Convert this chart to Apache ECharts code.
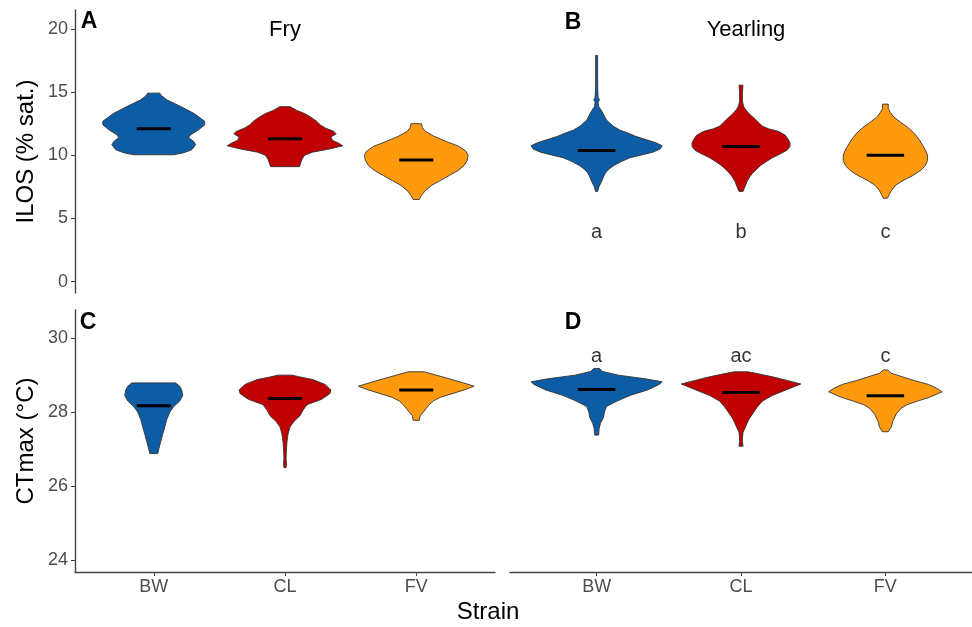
<!DOCTYPE html>
<html>
<head>
<meta charset="utf-8">
<script src="https://cdn.jsdelivr.net/npm/echarts@6/dist/echarts.min.js"></script>
<style>
  html, body { margin: 0; padding: 0; background: #fff; }
  #chart { width: 972px; height: 627px; }
</style>
</head>
<body>
<div id="chart"></div>
<script>
var strains = ['BW', 'CL', 'FV'];
var ilosTicks = [0, 5, 10, 15, 20];
var ctTicks = [24, 26, 28, 30];

// violin outlines: [value, half width in strain units]
var fryIlosBW = [[10.04, .152], [10.2, .228], [10.43, .289], [10.83, .319], [11.1, .304], [11.4, .266], [11.62, .281],
  [12.02, .342], [12.41, .388], [12.7, .388], [12.81, .373], [13.33, .304], [13.86, .205], [14.39, .099], [14.7, .061], [14.92, .046]];
var fryIlosCL = [[9.1, .11], [9.4, .12], [9.7, .13], [10.0, .15], [10.25, .21], [10.5, .34], [10.75, .44], [10.95, .41],
  [11.2, .36], [11.45, .35], [11.7, .39], [11.9, .37], [12.15, .31], [12.4, .27], [12.7, .24], [13.0, .2], [13.3, .15],
  [13.55, .09], [13.85, .04]];
var fryIlosFV = [[6.5, .023], [6.8, .038], [7.2, .068], [7.6, .114], [8.0, .183], [8.4, .251], [8.8, .319], [9.2, .365],
  [9.6, .388], [10.0, .395], [10.3, .38], [10.7, .327], [11.1, .228], [11.5, .137], [11.9, .068], [12.2, .046], [12.5, .04]];

var yrIlosBW = [[7.14, .007], [7.5, .015], [7.9, .034], [8.3, .048], [8.6, .061], [8.9, .085], [9.2, .12], [9.5, .17],
  [9.8, .23], [10.05, .32], [10.25, .39], [10.5, .44], [10.75, .454], [11.0, .41], [11.25, .34], [11.5, .27], [11.75, .22],
  [12.0, .16], [12.3, .115], [12.8, .068], [13.3, .045], [13.6, .03], [13.85, .015], [14.2, .01], [14.4, .02], [14.6, .01],
  [15.5, .007], [17.9, .007]];
var yrIlosCL = [[7.14, .014], [7.5, .027], [7.9, .041], [8.3, .061], [8.6, .081], [8.9, .108], [9.2, .136], [9.5, .176],
  [9.8, .217], [10.1, .271], [10.4, .319], [10.7, .339], [11.0, .339], [11.3, .325], [11.6, .305], [11.9, .258], [12.1, .19],
  [12.3, .149], [12.6, .122], [12.9, .095], [13.1, .075], [13.4, .047], [13.7, .027], [13.9, .017], [14.3, .01], [15.0, .01],
  [15.55, .014]];
var yrIlosFV = [[6.6, .014], [6.9, .027], [7.2, .041], [7.6, .068], [8.0, .122], [8.4, .19], [8.8, .244], [9.2, .278],
  [9.6, .292], [10.0, .292], [10.4, .278], [10.8, .258], [11.2, .237], [11.7, .203], [12.2, .156], [12.6, .108], [13.0, .061],
  [13.4, .034], [13.7, .02], [14.05, .02]];

var fryCtBW = [[26.88, .03], [27.0, .038], [27.2, .053], [27.4, .068], [27.6, .084], [27.8, .099], [28.0, .122], [28.15, .152],
  [28.3, .198], [28.45, .221], [28.6, .213], [28.7, .198], [28.79, .167]];
var fryCtCL = [[26.5, .008], [26.6, .011], [26.75, .008], [27.0, .011], [27.2, .015], [27.4, .023], [27.6, .038], [27.75, .068],
  [27.9, .114], [28.05, .137], [28.2, .167], [28.35, .281], [28.5, .342], [28.6, .35], [28.75, .304], [28.88, .213],
  [28.95, .114], [29.0, .053]];
var fryCtFV = [[27.78, .023], [27.9, .03], [28.0, .053], [28.1, .076], [28.2, .099], [28.3, .129], [28.4, .183], [28.5, .274],
  [28.6, .365], [28.7, .441], [28.8, .35], [28.9, .251], [29.0, .152], [29.09, .061]];

var yrCtBW = [[27.38, .014], [27.55, .017], [27.7, .027], [27.85, .047], [28.0, .054], [28.15, .068], [28.3, .142], [28.45, .231],
  [28.6, .353], [28.75, .434], [28.82, .454], [28.9, .339], [29.0, .149], [29.1, .041], [29.18, .02]];
var yrCtCL = [[27.08, .014], [27.2, .01], [27.3, .01], [27.45, .014], [27.6, .031], [27.8, .054], [28.0, .088], [28.15, .115],
  [28.3, .149], [28.45, .217], [28.6, .312], [28.76, .414], [28.85, .325], [28.95, .224], [29.05, .102], [29.09, .047]];
var yrCtFV = [[27.47, .02], [27.6, .041], [27.75, .051], [27.95, .075], [28.1, .108], [28.2, .149], [28.3, .224], [28.4, .305],
  [28.55, .393], [28.65, .353], [28.75, .298], [28.85, .203], [28.95, .122], [29.05, .041], [29.14, .014]];

var fryIlosMedian = [12.1, 11.3, 9.62];
var yrIlosMedian = [10.38, 10.7, 10.0];
var fryCtMedian = [28.17, 28.37, 28.6];
var yrCtMedian = [28.61, 28.53, 28.44];

var yrIlosLetters = ['a', 'b', 'c'];
var yrIlosLetterY = 3.9;
var yrCtLetters = ['a', 'ac', 'c'];
var yrCtLetterY = 29.5;

var fills = ['#0C5DA5', '#C00000', '#FF9A0E'];
var font = 'Liberation Sans, Arial, sans-serif';

var chart = echarts.init(document.getElementById('chart'));

function violins(idx, profiles, medians) {
  return {
    type: 'custom',
    xAxisIndex: idx,
    yAxisIndex: idx,
    clip: false,
    data: medians.map(function (m, i) { return [i + 1, m]; }),
    encode: { x: 0, y: 1 },
    renderItem: function (params, api) {
      var i = params.dataIndex;
      var x = api.value(0);
      var prof = profiles[i];
      var pts = prof.map(function (p) { return api.coord([x + p[1], p[0]]); });
      var back = prof.slice().reverse().map(function (p) { return api.coord([x - p[1], p[0]]); });
      var a = api.coord([x - 0.13, api.value(1)]);
      var b = api.coord([x + 0.13, api.value(1)]);
      return {
        type: 'group',
        children: [
          { type: 'polygon', shape: { points: pts.concat(back) },
            style: { fill: fills[i], stroke: '#333', lineWidth: 0.9 } },
          { type: 'line', shape: { x1: a[0], y1: a[1], x2: b[0], y2: b[1] },
            style: { stroke: '#000', lineWidth: 3 } }
        ]
      };
    }
  };
}

function letters(idx, labels, yv) {
  return {
    type: 'scatter',
    xAxisIndex: idx,
    yAxisIndex: idx,
    symbolSize: 1,
    itemStyle: { color: 'rgba(0,0,0,0)' },
    data: labels.map(function (l, i) { return [i + 1, yv]; }),
    label: {
      show: true, position: 'inside', color: '#000', fontSize: 20, fontFamily: font,
      formatter: function (p) { return labels[p.dataIndex]; }
    },
    silent: true
  };
}

function xAx(idx, showIt) {
  return {
    type: 'value', gridIndex: idx, min: 0.4, max: 3.6, show: showIt,
    splitLine: { show: false },
    axisLine: { show: true, onZero: false, lineStyle: { color: '#444', width: 1.4 } },
    axisTick: { show: true, length: 4, customValues: [1, 2, 3], lineStyle: { color: '#444' } },
    axisLabel: { customValues: [1, 2, 3], margin: 6, color: '#4d4d4d', fontSize: 18, fontFamily: font,
      formatter: function (v) { return strains[Math.round(v) - 1]; } }
  };
}

function yAx(idx, showIt, mn, mx, ticks, name) {
  return {
    type: 'value', gridIndex: idx, min: mn, max: mx, show: showIt,
    name: name, nameLocation: 'middle', nameGap: 37,
    nameTextStyle: { fontSize: 24, color: '#000', fontFamily: font },
    splitLine: { show: false },
    axisLine: { show: true, onZero: false, lineStyle: { color: '#444', width: 1.4 } },
    axisTick: { show: true, length: 4, customValues: ticks, lineStyle: { color: '#444' } },
    axisLabel: { customValues: ticks, margin: 7, color: '#4d4d4d', fontSize: 18, fontFamily: font }
  };
}

function txt(s, x, y, size, bold) {
  return {
    type: 'text', x: x, y: y, silent: true,
    style: { text: s, fill: '#000', align: 'center', verticalAlign: 'middle',
      font: (bold ? 'bold ' : '') + size + 'px ' + font }
  };
}

chart.setOption({
  backgroundColor: '#fff',
  animation: false,
  grid: [
    { left: 75, top: 10, width: 420, height: 283 },
    { left: 510, top: 10, width: 472, height: 283 },
    { left: 75, top: 310, width: 420, height: 262 },
    { left: 510, top: 310, width: 472, height: 262 }
  ],
  xAxis: [xAx(0, false), xAx(1, false), xAx(2, true), xAx(3, true)],
  yAxis: [
    yAx(0, true, -0.9, 21.5, ilosTicks, 'ILOS (% sat.)'),
    yAx(1, false, -0.9, 21.5, ilosTicks, ''),
    yAx(2, true, 23.68, 30.76, ctTicks, 'CTmax (°C)'),
    yAx(3, false, 23.68, 30.76, ctTicks, '')
  ],
  series: [
    violins(0, [fryIlosBW, fryIlosCL, fryIlosFV], fryIlosMedian),
    violins(1, [yrIlosBW, yrIlosCL, yrIlosFV], yrIlosMedian),
    violins(2, [fryCtBW, fryCtCL, fryCtFV], fryCtMedian),
    violins(3, [yrCtBW, yrCtCL, yrCtFV], yrCtMedian),
    letters(1, yrIlosLetters, yrIlosLetterY),
    letters(3, yrCtLetters, yrCtLetterY)
  ],
  graphic: [
    txt('A', 89, 22, 23, true),
    txt('B', 573, 23, 23, true),
    txt('C', 88, 323, 23, true),
    txt('D', 573, 323, 23, true),
    txt('Fry', 285, 30, 22, false),
    txt('Yearling', 746, 30, 22, false),
    txt('Strain', 488, 612, 24, false)
  ]
});
</script>
</body>
</html>
